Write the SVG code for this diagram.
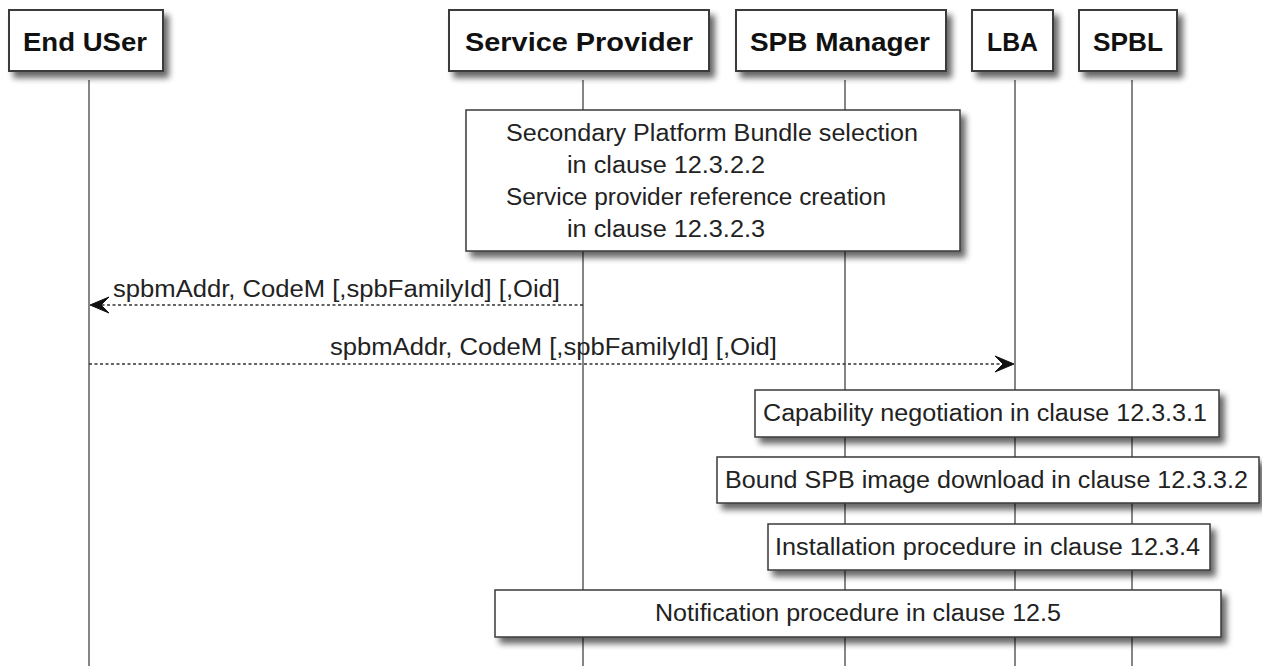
<svg xmlns="http://www.w3.org/2000/svg" width="1262" height="666" viewBox="0 0 1262 666">
<style>
.box{fill:#ffffff;stroke:#3a3a3a;stroke-width:2}
.note{fill:#ffffff;stroke:#3a3a3a;stroke-width:1.5}
.life{stroke:#444444;stroke-width:1.3;fill:none}
.msg{stroke:#333333;stroke-width:1.3;stroke-dasharray:3 2.5;fill:none}
.head{fill:#111111;stroke:#111111;stroke-width:1}
.pt{font-family:"Liberation Sans",Arial,sans-serif;font-weight:bold;font-size:25px;fill:#111111}
.tx{font-family:"Liberation Sans",Arial,sans-serif;font-size:23px;fill:#222222}
</style>
<defs>
<filter id="sh" x="-10%" y="-20%" width="130%" height="160%">
<feGaussianBlur in="SourceAlpha" stdDeviation="3"/>
<feOffset dx="5" dy="6" result="o"/>
<feComponentTransfer><feFuncA type="linear" slope="0.6"/></feComponentTransfer>
<feMerge><feMergeNode/><feMergeNode in="SourceGraphic"/></feMerge>
</filter>
</defs>
<g id="lifelines">
<line class="life" x1="89" y1="80" x2="89" y2="666"/>
<line class="life" x1="583" y1="80" x2="583" y2="666"/>
<line class="life" x1="845" y1="80" x2="845" y2="666"/>
<line class="life" x1="1015" y1="80" x2="1015" y2="666"/>
<line class="life" x1="1132" y1="80" x2="1132" y2="666"/>
</g>
<g id="p-enduser">
<rect class="box" x="9" y="10" width="154" height="61" filter="url(#sh)"/>
<text class="pt" x="23" y="51" textLength="124" lengthAdjust="spacingAndGlyphs">End USer</text>
</g>
<g id="p-sp">
<rect class="box" x="449" y="10" width="260" height="61" filter="url(#sh)"/>
<text class="pt" x="465" y="51" textLength="228" lengthAdjust="spacingAndGlyphs">Service Provider</text>
</g>
<g id="p-spbm">
<rect class="box" x="736" y="10" width="210" height="61" filter="url(#sh)"/>
<text class="pt" x="750" y="51" textLength="180" lengthAdjust="spacingAndGlyphs">SPB Manager</text>
</g>
<g id="p-lba">
<rect class="box" x="972" y="10" width="81" height="61" filter="url(#sh)"/>
<text class="pt" x="987" y="51" textLength="51" lengthAdjust="spacingAndGlyphs">LBA</text>
</g>
<g id="p-spbl">
<rect class="box" x="1079" y="10" width="98" height="61" filter="url(#sh)"/>
<text class="pt" x="1093" y="51" textLength="70" lengthAdjust="spacingAndGlyphs">SPBL</text>
</g>
<g id="note-selection">
<rect class="note" x="466" y="110" width="494" height="141" filter="url(#sh)"/>
<text class="tx" x="506" y="141" textLength="412" lengthAdjust="spacingAndGlyphs">Secondary Platform Bundle selection</text>
<text class="tx" x="567" y="173" textLength="198" lengthAdjust="spacingAndGlyphs">in clause 12.3.2.2</text>
<text class="tx" x="506" y="205" textLength="380" lengthAdjust="spacingAndGlyphs">Service provider reference creation</text>
<text class="tx" x="567" y="237" textLength="198" lengthAdjust="spacingAndGlyphs">in clause 12.3.2.3</text>
</g>
<g id="connectors">
<line class="msg" x1="583" y1="305" x2="93" y2="305"/>
<polygon class="head" points="90,305 109,297 101,305 109,313"/>
<text class="tx" x="113" y="297" textLength="447" lengthAdjust="spacingAndGlyphs">spbmAddr, CodeM [,spbFamilyId] [,Oid]</text>
<line class="msg" x1="89" y1="364" x2="1010" y2="364"/>
<polygon class="head" points="1014,364 995,356 1003,364 995,372"/>
<text class="tx" x="330" y="355" textLength="447" lengthAdjust="spacingAndGlyphs">spbmAddr, CodeM [,spbFamilyId] [,Oid]</text>
</g>
<g id="note-capability">
<rect class="note" x="755" y="390" width="464" height="47" filter="url(#sh)"/>
<text class="tx" x="763" y="421" textLength="444" lengthAdjust="spacingAndGlyphs">Capability negotiation in clause 12.3.3.1</text>
</g>
<g id="note-bound">
<rect class="note" x="717" y="457" width="542" height="46" filter="url(#sh)"/>
<text class="tx" x="725" y="488" textLength="523" lengthAdjust="spacingAndGlyphs">Bound SPB image download in clause 12.3.3.2</text>
</g>
<g id="note-install">
<rect class="note" x="768" y="524" width="442" height="46" filter="url(#sh)"/>
<text class="tx" x="775" y="555" textLength="425" lengthAdjust="spacingAndGlyphs">Installation procedure in clause 12.3.4</text>
</g>
<g id="note-notification">
<rect class="note" x="495" y="590" width="726" height="47" filter="url(#sh)"/>
<text class="tx" x="655" y="621" textLength="406" lengthAdjust="spacingAndGlyphs">Notification procedure in clause 12.5</text>
</g>
</svg>
